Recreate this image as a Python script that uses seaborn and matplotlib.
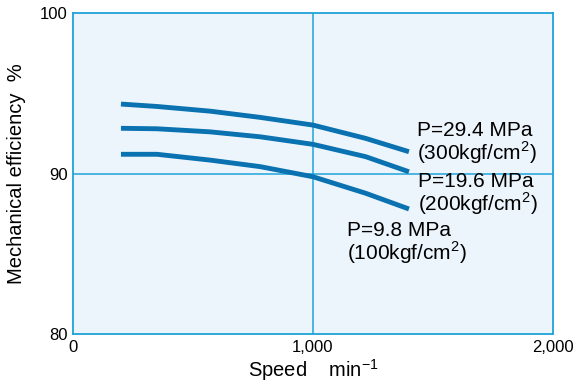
import pandas as pd
import matplotlib
matplotlib.use("Agg")
from matplotlib import pyplot as plt
import seaborn as sns

# speed (min^-1) and mechanical efficiency (%)
speed = [200, 350, 570, 780, 1000, 1220, 1400]
eff_294 = [94.33, 94.18, 93.89, 93.50, 93.02, 92.19, 91.36]
eff_196 = [92.82, 92.79, 92.60, 92.29, 91.82, 91.05, 90.11]
eff_98 = [91.20, 91.20, 90.84, 90.43, 89.80, 88.77, 87.79]

labels = ["P=29.4 MPa\n(300kgf/cm$^{2}$)",
          "P=19.6 MPa\n(200kgf/cm$^{2}$)",
          "P=9.8 MPa\n(100kgf/cm$^{2}$)"]
label_x = [1433, 1437, 1142]
label_y = [93.28, 90.08, 87.03]

x_ticks = [0, 1000, 2000]
x_ticklabels = ["0", "1,000", "2,000"]
y_ticks = [80, 90, 100]

df = pd.concat([
    pd.DataFrame({"speed": speed, "eff": eff_294, "p": "29.4"}),
    pd.DataFrame({"speed": speed, "eff": eff_196, "p": "19.6"}),
    pd.DataFrame({"speed": speed, "eff": eff_98, "p": "9.8"}),
])

sns.set_style("white")
plt.rcParams["font.family"] = ["Liberation Sans", "DejaVu Sans"]
plt.rcParams["mathtext.fontset"] = "custom"
plt.rcParams["mathtext.rm"] = "Liberation Sans"
plt.rcParams["text.color"] = "black"
plt.rcParams["axes.labelcolor"] = "black"
plt.rcParams["xtick.color"] = "black"
plt.rcParams["ytick.color"] = "black"

line_col = "#0a72b0"
grid_col = "#1ea3d9"

fig = plt.figure(figsize=(5.79, 3.85), dpi=100)
ax = fig.add_axes([0.126, 0.1325, 0.829, 0.8335])
ax.set_facecolor("#edf5fc")

sns.lineplot(data=df, x="speed", y="eff", hue="p", palette=[line_col] * 3,
             linewidth=3.5, legend=False, ax=ax, estimator=None)
for ln in ax.lines:
    ln.set_solid_capstyle("butt")
    ln.set_solid_joinstyle("round")

ax.set_xlim(0, 2000)
ax.set_ylim(80, 100)
ax.set_xticks(x_ticks)
ax.set_xticklabels(x_ticklabels)
ax.set_yticks(y_ticks)
ax.tick_params(length=0, labelsize=12, pad=4)
ax.axvline(1000, color=grid_col, lw=1.1, zorder=0)
ax.axhline(90, color=grid_col, lw=1.1, zorder=0)
for s in ax.spines.values():
    s.set_color(grid_col)
    s.set_linewidth(1.3)

for t, x, y in zip(labels, label_x, label_y):
    ax.text(x, y, t, fontsize=15, ha="left", va="top", linespacing=0.98)

ax.set_xlabel("Speed    min$^{\\mathregular{-1}}$", fontsize=14.5, labelpad=2)
ax.set_ylabel("Mechanical efficiency  %", fontsize=14.5, labelpad=10)

fig.savefig("out.png", dpi=100)
